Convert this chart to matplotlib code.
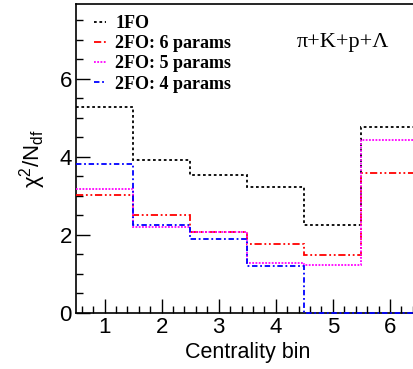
import matplotlib.pyplot as plt
import numpy as np
from matplotlib.ticker import MultipleLocator

plt.rcParams['mathtext.fontset'] = 'custom'
plt.rcParams['mathtext.rm'] = 'Liberation Sans'
plt.rcParams['mathtext.it'] = 'Liberation Sans:italic'

# chi2/Ndf per centrality bin
edges = np.arange(0.5, 7.0, 1.0)
fo1 = [5.28, 3.91, 3.53, 3.22, 2.26, 4.77]
fo2_6 = [3.03, 2.51, 2.07, 1.77, 1.49, 3.58]
fo2_5 = [3.18, 2.21, 2.08, 1.28, 1.23, 4.44]
fo2_4 = [3.82, 2.26, 1.90, 1.21, 0.0, 0.0]

labels = ["1FO", "2FO: 6 params", "2FO: 5 params", "2FO: 4 params"]
colors = ["black", "red", "magenta", "blue"]
styles = [(0, (1.5, 1.5)), (0, (4, 1.5, 1, 1.5, 1, 1.5)), (0, (1, 0.8)), (0, (3, 1.5, 1, 1.5))]
series = [fo1, fo2_6, fo2_5, fo2_4]

fig = plt.figure(figsize=(4.13, 3.69), dpi=100)
ax = fig.add_axes([76/413, 1-313/369, (418.5-76)/413, (313-4)/369])

for vals, lab, c, ls in zip(series, labels, colors, styles):
    ax.stairs(vals, edges, color=c, linestyle=ls, linewidth=1.3, label=lab,
              baseline=None, clip_on=False, zorder=3)

ax.set_xlim(0.5, 6.5)
ax.set_ylim(0, 7.92)
ax.xaxis.set_major_locator(MultipleLocator(1))
ax.xaxis.set_minor_locator(MultipleLocator(0.2))
ax.yaxis.set_major_locator(MultipleLocator(2))
ax.yaxis.set_minor_locator(MultipleLocator(0.5))
ax.tick_params(which='both', direction='in', labelsize=16, width=1, pad=3)
ax.tick_params(which='major', length=10)
ax.tick_params(which='minor', length=5)
for lab in ax.get_xticklabels() + ax.get_yticklabels():
    lab.set_family('Liberation Sans')
ax.spines['right'].set_visible(False)
for s in ['left', 'top', 'bottom']:
    ax.spines[s].set_linewidth(1.2)

ax.set_xlabel("Centrality bin", family='Liberation Sans', fontsize=15.5, labelpad=3)
ax.set_ylabel(r"$\mathrm{\chi^2/N_{df}}$", fontsize=16, labelpad=8)

leg = ax.legend(loc='upper left', frameon=False, handlelength=0.7, handletextpad=0.5,
                labelspacing=0.18, borderaxespad=0.2, bbox_to_anchor=(0.02, 1.0),
                prop={'family': 'Liberation Serif', 'weight': 'bold', 'size': 13})

fig.text(297/413, 1-42/369, "π+K+p+Λ", ha='left', va='center',
         family='Liberation Serif', fontsize=16)

fig.savefig("out.png", dpi=100)
